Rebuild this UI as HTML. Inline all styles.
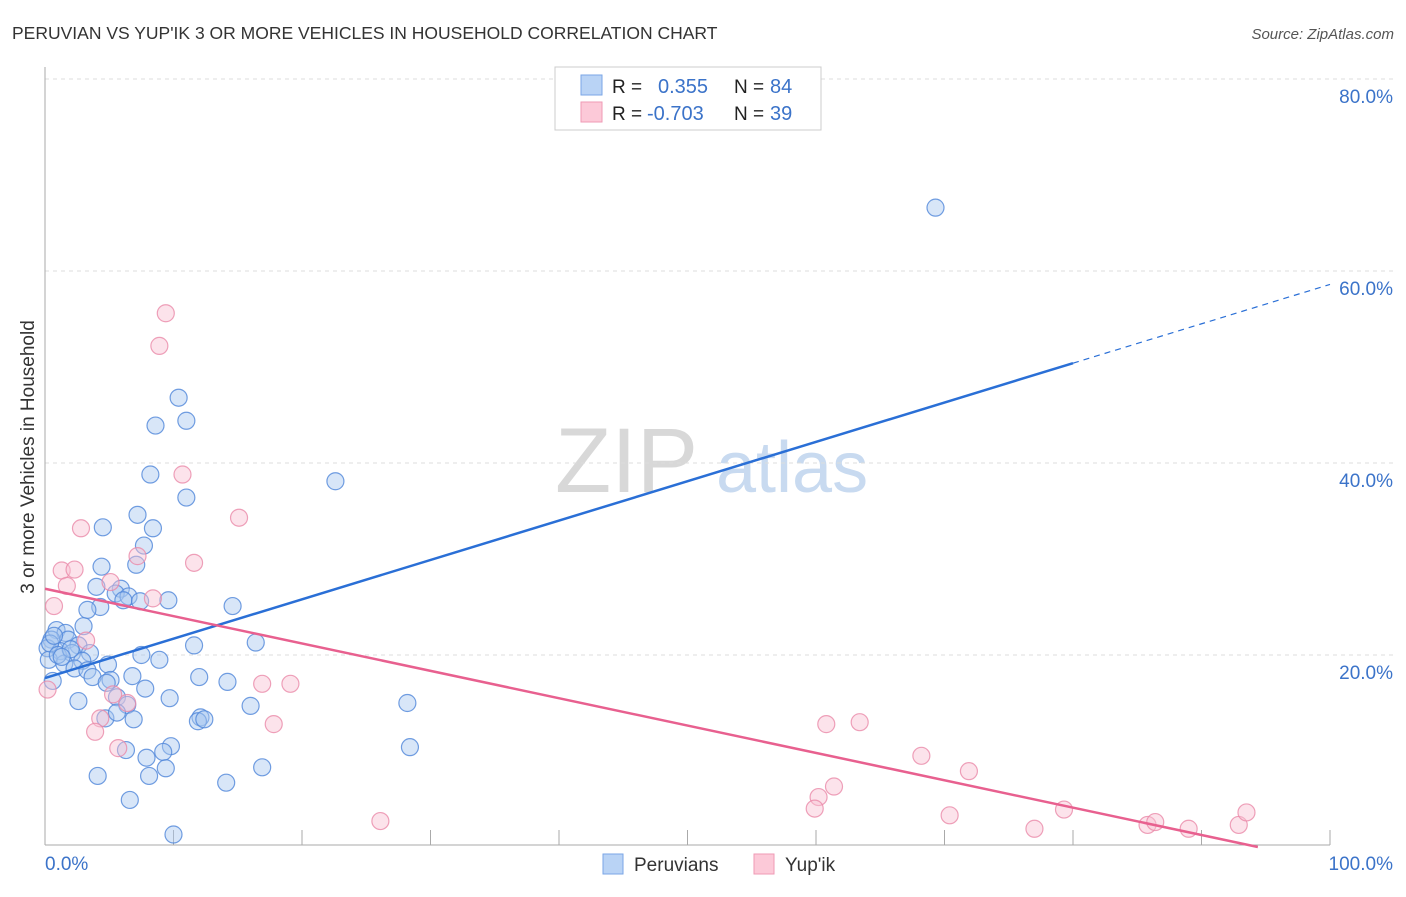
<!DOCTYPE html>
<html><head><meta charset="utf-8"><style>
body{margin:0;background:#fff;font-family:"Liberation Sans",sans-serif;}
svg text{font-family:"Liberation Sans",sans-serif;}
</style></head><body>
<svg id="chart" width="1406" height="892" viewBox="0 0 1406 892">
<text x="12" y="39" font-size="17.5" fill="#333">PERUVIAN VS YUP'IK 3 OR MORE VEHICLES IN HOUSEHOLD CORRELATION CHART</text>
<text x="1394" y="39" font-size="15" fill="#555" font-style="italic" text-anchor="end">Source: ZipAtlas.com</text>
<g>
<text x="555" y="492" font-size="92" fill="#d8d8d8" font-family="Liberation Serif,serif">ZIP</text>
<text x="716" y="492" font-size="72" fill="#c8daf0">atlas</text></g>
<g id="grid"></g>
<g id="axes"></g>
<g id="pts"></g>
<g id="trend"></g>
<g>
<rect x="555" y="67" width="266" height="63" fill="#fff" stroke="#ccc"/>
<rect x="581" y="75" width="21" height="20" fill="#b9d3f5" stroke="#7aa6e6"/>
<rect x="581" y="102" width="21" height="20" fill="#fcc9d8" stroke="#ef9ab5"/>
<text x="612" y="93" font-size="19" fill="#222">R =</text>
<text x="658" y="93" font-size="20" fill="#3b73c9">0.355</text>
<text x="734" y="93" font-size="19" fill="#222">N =</text>
<text x="770" y="93" font-size="20" fill="#3b73c9">84</text>
<text x="612" y="120" font-size="19" fill="#222">R =</text>
<text x="647" y="120" font-size="20" fill="#3b73c9">-0.703</text>
<text x="734" y="120" font-size="19" fill="#222">N =</text>
<text x="770" y="120" font-size="20" fill="#3b73c9">39</text>
</g>
<g>
<rect x="603" y="854" width="20" height="20" fill="#b9d3f5" stroke="#7aa6e6"/>
<text x="634" y="871" font-size="19" fill="#333">Peruvians</text>
<rect x="754" y="854" width="20" height="20" fill="#fcc9d8" stroke="#ef9ab5"/>
<text x="785" y="871" font-size="19" fill="#333">Yup'ik</text>
</g>
<text transform="translate(34,457) rotate(-90)" font-size="19" fill="#333" text-anchor="middle">3 or more Vehicles in Household</text>
</svg>
<script>
const yTicks=[20,40,60,80];
const yTickLabels=["20.0%","40.0%","60.0%","80.0%"];
const xTicks=[0,10,20,30,40,50,60,70,80,90,100];
const blueX=[69.3,10.4,11.0,8.6,8.2,22.6,11.0,4.5,7.2,8.4,7.7,4.4,7.1,4.0,5.9,5.5,6.5,6.1,7.4,9.6,4.3,3.3,14.6,3.0,0.9,1.6,0.5,1.8,2.6,16.4,11.6,0.2,1.2,2.1,3.5,7.5,0.3,8.9,2.9,4.9,1.5,2.3,3.3,3.7,6.8,5.1,12.0,14.2,4.8,0.6,7.8,5.6,9.7,2.6,6.4,16.0,28.2,6.9,4.7,12.1,11.9,12.4,5.6,28.4,9.8,9.2,6.3,7.9,9.4,16.9,8.1,4.1,14.1,6.6,10.0,0.4,1.0,0.7,2.0,1.3];
const blueY=[66.6,46.8,44.4,43.9,38.8,38.1,36.4,33.3,34.6,33.2,31.4,29.2,29.4,27.1,26.9,26.4,26.1,25.7,25.6,25.7,25.0,24.7,25.1,23.0,22.6,22.3,21.6,21.6,21.0,21.3,21.0,20.7,20.4,20.2,20.2,20.0,19.5,19.5,19.4,19.0,19.1,18.6,18.4,17.7,17.8,17.4,17.7,17.2,17.1,17.3,16.5,15.6,15.5,15.2,14.8,14.7,15.0,13.3,13.4,13.5,13.1,13.3,14.0,10.4,10.5,9.9,10.1,9.3,8.2,8.3,7.4,7.4,6.7,4.9,1.3,21.2,20.0,22.0,20.6,19.8];
const pinkX=[9.4,8.9,10.7,15.1,2.8,11.6,7.2,1.3,2.3,1.7,5.1,8.4,0.7,3.2,0.2,16.9,19.1,5.3,6.4,4.3,3.9,17.8,5.7,60.8,63.4,68.2,71.9,61.4,60.2,59.9,70.4,26.1,79.3,77.0,85.8,86.4,89.0,92.9,93.5];
const pinkY=[55.6,52.2,38.8,34.3,33.2,29.6,30.3,28.8,28.9,27.2,27.6,25.9,25.1,21.5,16.4,17.0,17.0,15.9,15.0,13.4,12.0,12.8,10.3,12.8,13.0,9.5,7.9,6.3,5.2,4.0,3.3,2.7,3.9,1.9,2.3,2.6,1.9,2.3,3.6];
const blueTrend=[17.6,0.41]; // intercept, slope
const pinkTrend=[26.9,-0.285];
const X0=45,X1=1330,Y0=847,PY=9.6;
const sx=v=>X0+v*(X1-X0)/100, sy=v=>Y0-v*PY;
const NS="http://www.w3.org/2000/svg";
function mk(t,a,p){const e=document.createElementNS(NS,t);for(const k in a)e.setAttribute(k,a[k]);p.appendChild(e);return e;}
const grid=document.getElementById('grid'),axes=document.getElementById('axes'),pts=document.getElementById('pts'),tr=document.getElementById('trend');
yTicks.forEach((v,i)=>{
 const l=mk('line',{x1:45,x2:1393,y1:sy(v),y2:sy(v),stroke:'#ddd','stroke-dasharray':'4,4'},grid);
 
 
 const t=mk('text',{x:1393,y:sy(v)+24,'font-size':19,fill:'#3b73c9','text-anchor':'end'},grid);
 t.textContent=yTickLabels[i];
 
 
});
const ya=mk('line',{x1:45,x2:45,y1:67,y2:845,stroke:'#aaa'},axes);


const xa=mk('line',{x1:45,x2:1330,y1:845,y2:845,stroke:'#aaa'},axes);


xTicks.forEach(v=>{
 const t=mk('line',{x1:sx(v),x2:sx(v),y1:830,y2:845,stroke:'#aaa'},axes);
 
 
});
const xl0=mk('text',{x:45,y:870,'font-size':19,fill:'#3b73c9'},axes);xl0.textContent='0.0%';


const xl1=mk('text',{x:1393,y:870,'font-size':19,fill:'#3b73c9','text-anchor':'end'},axes);xl1.textContent='100.0%';


function dots(xs,ys,fill,stroke,name){xs.forEach((x,i)=>{
 const c=mk('circle',{cx:sx(x),cy:sy(ys[i]),r:8.5,fill:fill,'fill-opacity':0.45,stroke:stroke,'stroke-opacity':0.8,'stroke-width':1.2},pts);
 
 
});}
dots(blueX,blueY,'#a9c8f0','#4f86d9','peruvian-point');
dots(pinkX,pinkY,'#f9c0d2','#ea8aa9','yupik-point');
const bl=mk('line',{x1:sx(0),y1:sy(blueTrend[0]),x2:sx(80),y2:sy(blueTrend[0]+80*blueTrend[1]),stroke:'#2a6fd6','stroke-width':2.5},tr);


const bd=mk('line',{x1:sx(80),y1:sy(blueTrend[0]+80*blueTrend[1]),x2:sx(100),y2:sy(blueTrend[0]+100*blueTrend[1]),stroke:'#2a6fd6','stroke-width':1.2,'stroke-dasharray':'6,5'},tr);


const xe=-pinkTrend[0]/pinkTrend[1];
const pl=mk('line',{x1:sx(0),y1:sy(pinkTrend[0]),x2:sx(xe),y2:sy(0),stroke:'#e8608f','stroke-width':2.5},tr);


</script>
</body></html>
